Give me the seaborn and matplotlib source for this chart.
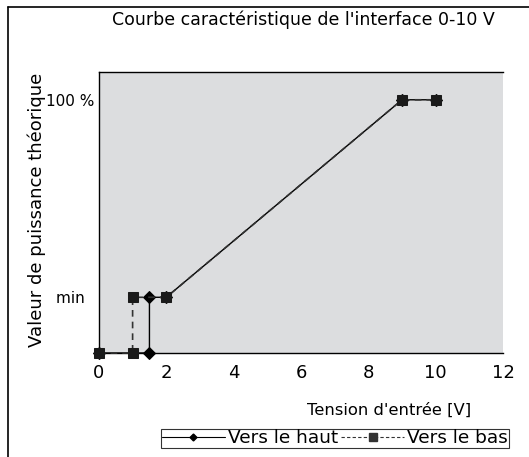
import matplotlib
matplotlib.use('Agg')
import matplotlib.pyplot as plt
import seaborn as sns
from matplotlib.lines import Line2D

# Data
tension_haut = [0, 1.5, 1.5, 2, 9, 10]
puissance_haut = [0, 0, 22, 22, 100, 100]
tension_bas = [0, 1, 1, 2, 9, 10]
puissance_bas = [0, 0, 22, 22, 100, 100]
xticks = [0, 2, 4, 6, 8, 10, 12]
ytick_pos = [22, 100]
ytick_labels = ['min  ', '100 %']

sns.set_style('white')
plt.rcParams['font.family'] = ['DejaVu Sans']
plt.rcParams['text.color'] = 'black'
plt.rcParams['xtick.color'] = 'black'
plt.rcParams['ytick.color'] = 'black'

fig = plt.figure(figsize=(5.29, 4.57), dpi=100)
ax = fig.add_axes([0.187, 0.2276, 0.764, 0.615])
ax.set_facecolor('#dcdddf')

sns.lineplot(x=tension_haut, y=puissance_haut, sort=False, estimator=None,
             ax=ax, color='black', linewidth=1, marker='D', markersize=6,
             markeredgecolor='black', clip_on=False, zorder=3)
sns.lineplot(x=tension_bas, y=puissance_bas, sort=False, estimator=None,
             ax=ax, color='#333333', linewidth=1.2, linestyle=(0, (4, 3)),
             marker='s', markersize=7, markerfacecolor='#1a1a1a',
             markeredgecolor='#1a1a1a', clip_on=False, zorder=3)

ax.set_xlim(0, 12)
ax.set_ylim(0, 111)
ax.set_xticks(xticks)
ax.set_xticklabels([str(t) for t in xticks], fontsize=13)
ax.set_yticks(ytick_pos)
ax.set_yticklabels(ytick_labels, fontsize=11)
ax.tick_params(axis='x', direction='out', length=4, width=1, color='black', pad=4)
ax.tick_params(axis='y', length=0, pad=3)

for side in ['left', 'top', 'bottom']:
    ax.spines[side].set_visible(True)
    ax.spines[side].set_color('black')
    ax.spines[side].set_linewidth(1)
ax.spines['right'].set_visible(False)

fig.text(0.573, 0.956, "Courbe caractéristique de l'interface 0-10 V",
         ha='center', va='center', fontsize=12.5)
fig.text(0.07, 0.54, 'Valeur de puissance théorique', rotation=90,
         ha='center', va='center', fontsize=13)
fig.text(0.736, 0.103, "Tension d'entrée [V]", ha='center', va='center',
         fontsize=11.8)

handles = [
    Line2D([], [], color='black', linewidth=0.8, marker='D', markersize=3.5),
    Line2D([], [], color='#333333', linewidth=0.8, linestyle=(0, (3, 2)),
           marker='s', markersize=5.5),
]
leg = fig.legend(handles, ['Vers le haut', 'Vers le bas'], ncol=2,
                 loc='center', bbox_to_anchor=(0.633, 0.0405), fontsize=13.3,
                 frameon=True, fancybox=False, handlelength=3.4,
                 handletextpad=0.15, columnspacing=0.2, borderpad=0.05,
                 borderaxespad=0)
leg.get_frame().set_edgecolor('black')
leg.get_frame().set_linewidth(0.8)

# outer frame lines (top and left)
fig.add_artist(Line2D([0.015, 1.0], [0.985, 0.985], color='black', linewidth=1.2,
                      transform=fig.transFigure))
fig.add_artist(Line2D([0.015, 0.015], [0.0, 0.985], color='black', linewidth=1.2,
                      transform=fig.transFigure))

fig.savefig('out.png', dpi=100)
